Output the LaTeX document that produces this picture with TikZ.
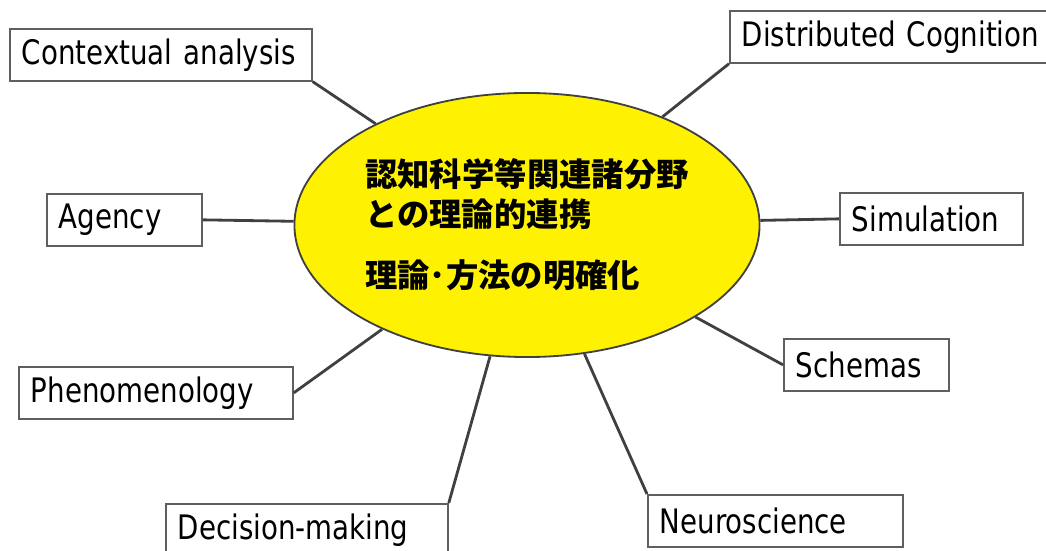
\documentclass[tikz,border=0pt]{standalone}
\usepackage{fontspec}
\setmainfont{DejaVu Sans}[FakeStretch=0.82]
\newfontfamily\jpfont{Noto Sans CJK JP}
\usetikzlibrary{positioning,shapes.geometric}
\definecolor{spokegray}{HTML}{404040}
\definecolor{boxgray}{HTML}{5F5F5F}

\begin{document}
\begin{tikzpicture}[x=0.025cm,y=-0.025cm,
  topic/.style={draw=boxgray, line width=1.2pt, fill=white, anchor=north west, minimum height=1.3cm, inner xsep=0.3cm, inner ysep=0pt, align=left, font=\fontsize{24}{28}\selectfont},
  hub/.style={ellipse, draw=spokegray, line width=1.3pt, fill=yellow, minimum width=11.625cm, minimum height=6.6cm, inner sep=0pt, align=left, font=\jpfont\bfseries\fontsize{23}{28.5}\selectfont},
  spoke/.style={draw=spokegray, line width=2pt}]
\useasboundingbox (0,0) rectangle (1046,551);

\node[hub] (hub) at (527,225) {認知科学等関連諸分野\\との理論的連携\\[15pt]理論･方法の明確化};

\node[topic, text width=6.95cm] (context) at (9,28) {Contextual analysis};
\node[topic, text width=3.275cm] (agency) at (46,193) {Agency};
\node[topic, text width=6.25cm] (pheno) at (18,366) {Phenomenology};
\node[topic, text width=6.45cm] (decision) at (165,503) {Decision-making};
\node[topic, text width=5.775cm] (neuro) at (647,494) {Neuroscience};
\node[topic, text width=3.525cm] (schemas) at (783,338) {Schemas};
\node[topic, text width=3.975cm] (simul) at (839,192) {Simulation};
\node[topic, text width=7.65cm] (distrib) at (729,10) {Distributed Cognition};

\draw[spoke] (context.south east) -- (hub);
\draw[spoke] (agency.east) -- (hub);
\draw[spoke] (pheno.east) -- (hub);
\draw[spoke] (decision.north east) -- (hub);
\draw[spoke] (neuro.north west) -- (hub);
\draw[spoke] (schemas.west) -- (hub);
\draw[spoke] (simul.west) -- (hub);
\draw[spoke] (distrib.south west) -- (hub);
\end{tikzpicture}
\end{document}
